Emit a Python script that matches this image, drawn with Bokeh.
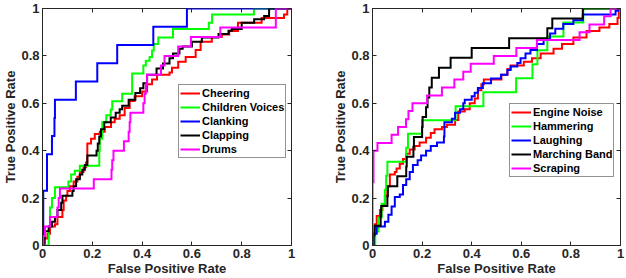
from bokeh.plotting import figure
from bokeh.layouts import row
from bokeh.models import Range1d, FixedTicker, LinearAxis, Legend, LegendItem
from bokeh.embed import file_html
from bokeh.resources import INLINE

tick_values = [0, 0.2, 0.4, 0.6, 0.8, 1.0]
tick_labels = ["0", "0.2", "0.4", "0.6", "0.8", "1"]
x_label = "False Positive Rate"
y_label = "True Positive Rate"

# ---- left panel ----
left_names = ["Cheering", "Children Voices", "Clanking", "Clapping", "Drums"]
left_colors = ["#ff0000", "#00ff00", "#0000ff", "#000000", "#ff00ff"]

cheering_fpr = [0, 0.01, 0.02, 0.03, 0.05, 0.06, 0.08, 0.085, 0.095, 0.10, 0.11, 0.125, 0.14, 0.15, 0.165,
                0.175, 0.18, 0.195, 0.21, 0.23, 0.25, 0.275, 0.29, 0.31, 0.33, 0.35, 0.37, 0.40, 0.42, 0.44,
                0.46, 0.51, 0.52, 0.545, 0.575, 0.615, 0.635, 0.68, 0.72, 0.75, 0.785, 0.88, 0.97, 0.983, 1.0]
cheering_tpr = [0, 0.03, 0.05, 0.08, 0.09, 0.12, 0.15, 0.19, 0.21, 0.23, 0.25, 0.27, 0.29, 0.31, 0.33,
                0.35, 0.43, 0.45, 0.47, 0.48, 0.50, 0.52, 0.535, 0.55, 0.58, 0.61, 0.63, 0.65, 0.68, 0.70,
                0.72, 0.73, 0.75, 0.775, 0.795, 0.825, 0.86, 0.88, 0.89, 0.905, 0.94, 0.96, 0.975, 1.0, 1.0]

children_fpr = [0, 0.025, 0.03, 0.038, 0.05, 0.104, 0.115, 0.13, 0.15, 0.228, 0.23, 0.24, 0.256, 0.274,
                0.28, 0.32, 0.36, 0.405, 0.415, 0.43, 0.44, 0.447, 0.465, 0.524, 0.668, 0.681, 0.849, 1.0]
children_tpr = [0, 0.08, 0.16, 0.2, 0.246, 0.27, 0.3, 0.315, 0.336, 0.40, 0.45, 0.52, 0.55, 0.574,
                0.609, 0.64, 0.726, 0.76, 0.78, 0.795, 0.823, 0.85, 0.878, 0.913, 0.94, 0.975, 1.0, 1.0]

clanking_fpr = [0, 0.003, 0.018, 0.038, 0.048, 0.05, 0.134, 0.22, 0.30, 0.445, 0.58, 1.0]
clanking_tpr = [0, 0.231, 0.385, 0.462, 0.538, 0.615, 0.692, 0.769, 0.846, 0.923, 1.0, 1.0]

clapping_fpr = [0, 0.005, 0.01, 0.025, 0.038, 0.05, 0.06, 0.075, 0.08, 0.12, 0.125, 0.135, 0.15, 0.16,
                0.17, 0.18, 0.217, 0.222, 0.228, 0.235, 0.248, 0.274, 0.294, 0.31, 0.32, 0.346, 0.373,
                0.392, 0.405, 0.42, 0.458, 0.484, 0.51, 0.524, 0.55, 0.563, 0.6, 0.64, 0.707, 0.747,
                0.76, 0.8, 0.85, 0.89, 0.91, 1.0]
clapping_tpr = [0, 0.03, 0.06, 0.08, 0.10, 0.12, 0.15, 0.18, 0.21, 0.23, 0.25, 0.28, 0.30, 0.32,
                0.34, 0.38, 0.40, 0.43, 0.46, 0.49, 0.52, 0.54, 0.56, 0.575, 0.59, 0.615, 0.643,
                0.664, 0.685, 0.72, 0.747, 0.768, 0.79, 0.81, 0.83, 0.84, 0.86, 0.878, 0.892, 0.906,
                0.913, 0.94, 0.955, 0.968, 1.0, 1.0]

drums_fpr = [0, 0.003, 0.01, 0.03, 0.06, 0.065, 0.07, 0.206, 0.277, 0.28, 0.285, 0.327, 0.346, 0.35,
             0.353, 0.405, 0.41, 0.415, 0.42, 0.476, 0.49, 0.545, 0.596, 0.714, 0.937, 1.0]
drums_tpr = [0, 0.04, 0.08, 0.12, 0.16, 0.20, 0.24, 0.28, 0.32, 0.36, 0.40, 0.44, 0.48, 0.52,
             0.56, 0.60, 0.64, 0.68, 0.72, 0.76, 0.80, 0.84, 0.88, 0.92, 1.0, 1.0]

# ---- right panel ----
right_names = ["Engine Noise", "Hammering", "Laughing", "Marching Band", "Scraping"]
right_colors = ["#ff0000", "#00ff00", "#0000ff", "#000000", "#ff00ff"]

engine_fpr = [0, 0.004, 0.01, 0.017, 0.03, 0.04, 0.05, 0.06, 0.07, 0.09, 0.097, 0.11, 0.123, 0.136, 0.15,
              0.17, 0.19, 0.216, 0.235, 0.25, 0.28, 0.30, 0.333, 0.346, 0.372, 0.392, 0.412, 0.425, 0.439,
              0.449, 0.52, 0.544, 0.557, 0.61, 0.643, 0.678, 0.73, 0.764, 0.81, 0.863, 0.915, 0.955,
              0.988, 0.993, 1.0]
engine_tpr = [0, 0.05, 0.09, 0.125, 0.15, 0.17, 0.21, 0.25, 0.30, 0.31, 0.325, 0.345, 0.365, 0.387, 0.405,
              0.42, 0.435, 0.455, 0.475, 0.49, 0.50, 0.51, 0.53, 0.565, 0.575, 0.60, 0.62, 0.655, 0.68,
              0.70, 0.72, 0.745, 0.76, 0.775, 0.79, 0.81, 0.83, 0.85, 0.878, 0.905, 0.92, 0.935,
              0.96, 1.0, 1.0]

hammering_fpr = [0, 0.011, 0.024, 0.037, 0.05, 0.055, 0.06, 0.136, 0.143, 0.2, 0.335, 0.447, 0.579,
                 0.645, 0.665, 0.705, 0.77, 0.85, 1.0]
hammering_tpr = [0, 0.059, 0.118, 0.176, 0.235, 0.294, 0.353, 0.412, 0.471, 0.529, 0.588, 0.647, 0.706,
                 0.765, 0.824, 0.882, 0.941, 1.0, 1.0]

laughing_fpr = [0, 0.004, 0.017, 0.05, 0.064, 0.077, 0.09, 0.11, 0.123, 0.136, 0.15, 0.163, 0.182, 0.196,
                0.216, 0.235, 0.26, 0.288, 0.29, 0.32, 0.333, 0.353, 0.366, 0.372, 0.40, 0.412, 0.425,
                0.445, 0.478, 0.518, 0.544, 0.557, 0.584, 0.597, 0.617, 0.637, 0.663, 0.69, 0.716,
                0.737, 0.769, 0.81, 0.848, 0.98, 0.99, 1.0]
laughing_tpr = [0, 0.05, 0.08, 0.10, 0.13, 0.165, 0.205, 0.215, 0.255, 0.28, 0.31, 0.34, 0.36, 0.38,
                0.40, 0.42, 0.435, 0.46, 0.52, 0.535, 0.56, 0.575, 0.60, 0.615, 0.63, 0.645, 0.665,
                0.685, 0.705, 0.72, 0.74, 0.755, 0.77, 0.79, 0.81, 0.825, 0.85, 0.87, 0.895,
                0.915, 0.935, 0.95, 0.975, 0.99, 1.0, 1.0]

marching_fpr = [0, 0.004, 0.008, 0.033, 0.035, 0.06, 0.062, 0.1, 0.136, 0.138, 0.165, 0.167, 0.2, 0.202,
                0.216, 0.222, 0.229, 0.239, 0.268, 0.315, 0.40, 0.551, 0.705, 0.725, 0.848, 1.0]
marching_tpr = [0, 0.042, 0.083, 0.125, 0.167, 0.208, 0.25, 0.292, 0.333, 0.375, 0.417, 0.458, 0.50, 0.542,
                0.583, 0.625, 0.667, 0.708, 0.75, 0.792, 0.833, 0.875, 0.917, 0.958, 1.0, 1.0]

scraping_fpr = [0, 0.0, 0.004, 0.02, 0.077, 0.103, 0.135, 0.145, 0.161, 0.22, 0.28, 0.33, 0.366, 0.396,
                0.489, 0.58, 0.663, 0.835, 0.875, 0.934, 0.96, 1.0]
scraping_tpr = [0, 0.267, 0.40, 0.433, 0.467, 0.50, 0.533, 0.567, 0.60, 0.633, 0.667, 0.70, 0.733, 0.767,
                0.80, 0.833, 0.867, 0.90, 0.933, 0.967, 1.0, 1.0]

left_series = [(cheering_fpr, cheering_tpr), (children_fpr, children_tpr), (clanking_fpr, clanking_tpr),
               (clapping_fpr, clapping_tpr), (drums_fpr, drums_tpr)]
right_series = [(engine_fpr, engine_tpr), (hammering_fpr, hammering_tpr), (laughing_fpr, laughing_tpr),
                (marching_fpr, marching_tpr), (scraping_fpr, scraping_tpr)]

FONT = "Liberation Sans"
AX = "#262626"
HEIGHT = 278
B_TOP, B_BOTTOM = 8, 33
overrides = {v: s for v, s in zip(tick_values, tick_labels)}


def make_panel(series, names, colors, width, border_left, border_right, legend_frac):
    p = figure(width=width, height=HEIGHT, output_backend="svg", toolbar_location=None,
               x_range=Range1d(0, 1), y_range=Range1d(0, 1),
               min_border_left=border_left, min_border_right=border_right,
               min_border_top=B_TOP, min_border_bottom=B_BOTTOM)
    p.grid.visible = False
    p.outline_line_color = AX
    p.outline_line_width = 1
    p.background_fill_color = "white"
    for ax, lab in ((p.xaxis[0], x_label), (p.yaxis[0], y_label)):
        ax.ticker = FixedTicker(ticks=tick_values)
        ax.major_label_overrides = overrides
        ax.major_label_text_font = FONT
        ax.major_label_text_font_style = "bold"
        ax.major_label_text_font_size = "13px"
        ax.major_label_text_color = AX
        ax.major_label_standoff = 3
        ax.axis_label = lab
        ax.axis_label_text_font = FONT
        ax.axis_label_text_font_style = "bold"
        ax.axis_label_text_font_size = "13px"
        ax.axis_label_text_color = AX
        ax.axis_label_standoff = 0
        ax.major_tick_in = 4
        ax.major_tick_out = 0
        ax.minor_tick_line_color = None
        ax.axis_line_color = AX
        ax.major_tick_line_color = AX
    # mirrored inward ticks on the top and right edges (no labels drawn)
    for loc in ("above", "right"):
        extra = LinearAxis(ticker=FixedTicker(ticks=tick_values), major_label_text_font_size="0px",
                           major_label_text_color=None,
                           major_label_standoff=0, major_tick_in=4, major_tick_out=0,
                           minor_tick_line_color=None, axis_line_color=None,
                           major_tick_line_color=AX)
        p.add_layout(extra, loc)

    items = []
    for (xs, ys), name, col in zip(series, names, colors):
        r = p.step(xs, ys, mode="after", line_color=col, line_width=2, line_join="miter")
        items.append(LegendItem(label=name, renderers=[r]))

    frame_w = width - border_left - border_right
    frame_h = HEIGHT - B_TOP - B_BOTTOM
    leg = Legend(items=items, location=(int(legend_frac[0] * frame_w), int(legend_frac[1] * frame_h)),
                 border_line_color=AX, border_line_width=1, background_fill_color="white",
                 background_fill_alpha=1.0, label_text_font=FONT, label_text_font_style="bold",
                 label_text_font_size="11px", label_text_color="#000000",
                 glyph_width=20, glyph_height=14, label_height=14, label_standoff=2,
                 spacing=0, padding=1, margin=0)
    p.add_layout(leg)
    return p


p1 = make_panel(left_series, left_names, left_colors, 313, 37, 22, (0.539, 0.37))
p2 = make_panel(right_series, right_names, right_colors, 313, 59, 6, (0.556, 0.29))

layout = row(p1, p2)
open("out.html", "w").write(file_html(layout, INLINE))
